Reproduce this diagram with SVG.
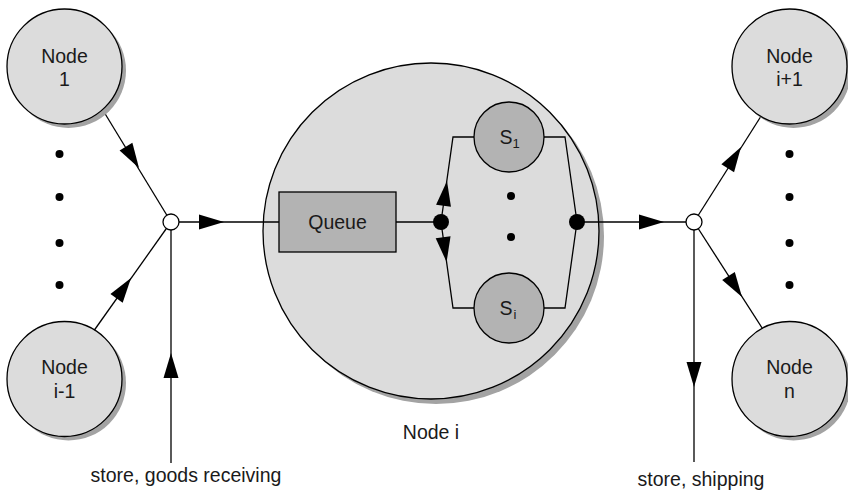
<svg xmlns="http://www.w3.org/2000/svg" xmlns:xlink="http://www.w3.org/1999/xlink" width="848" height="491" viewBox="0 0 848 491">
<style>
.node{fill:#dcdcdc;stroke:#000;stroke-width:1.3}
.shadow{fill:#a3a3a3;stroke:none}
.dark{fill:#b3b3b3;stroke:#000;stroke-width:1.3}
.ln{fill:none;stroke:#000;stroke-width:1.3}
.junc{fill:#fff;stroke:#000;stroke-width:1.3}
.dot{fill:#000}
text{font-family:"Liberation Sans",Arial,sans-serif;font-size:19.5px;fill:#1a1a1a;text-anchor:middle}
.sub{font-size:13px}
</style>
<defs>
<path id="ah" d="M0,0 L-25,-7.5 L-25,7.5 Z" fill="#000"/>
</defs>
<rect width="848" height="491" fill="#fff"/>

<g id="node-i">
<circle class="shadow" cx="436" cy="236" r="168"/>
<circle class="node" cx="431" cy="231" r="168"/>
<text x="431" y="439">Node i</text>
</g>

<g id="connectors">
<line class="ln" x1="104" y1="112" x2="171" y2="222"/>
<line class="ln" x1="93" y1="332" x2="171" y2="222"/>
<line class="ln" x1="171" y1="222" x2="279" y2="222"/>
<line class="ln" x1="171" y1="222" x2="171" y2="463"/>
<line class="ln" x1="396" y1="222" x2="441" y2="222"/>
<polyline class="ln" points="441,222 453,137 474,137"/>
<polyline class="ln" points="441,222 453,308 474,308"/>
<polyline class="ln" points="544,137 565,137 577,222"/>
<polyline class="ln" points="544,308 565,308 577,222"/>
<line class="ln" x1="577" y1="222" x2="694" y2="222"/>
<line class="ln" x1="694" y1="222" x2="760.5" y2="117"/>
<line class="ln" x1="694" y1="222" x2="764" y2="331"/>
<line class="ln" x1="694" y1="222" x2="694" y2="462"/>
<use xlink:href="#ah" transform="translate(139,168) rotate(58.6)"/>
<use xlink:href="#ah" transform="translate(131,278) rotate(-54.7)"/>
<use xlink:href="#ah" transform="translate(224,222)"/>
<use xlink:href="#ah" transform="translate(171,353) rotate(-90)"/>
<use xlink:href="#ah" transform="translate(447,181) rotate(-82)"/>
<use xlink:href="#ah" transform="translate(446.6,262) rotate(82)"/>
<use xlink:href="#ah" transform="translate(664,222)"/>
<use xlink:href="#ah" transform="translate(741,147) rotate(-57.9)"/>
<use xlink:href="#ah" transform="translate(742,297) rotate(57.3)"/>
<use xlink:href="#ah" transform="translate(694,387) rotate(90)"/>
<circle class="dot" cx="441" cy="222" r="8"/>
<circle class="dot" cx="577" cy="222" r="8"/>
<circle class="dot" cx="511" cy="196" r="4"/>
<circle class="dot" cx="511" cy="237" r="4"/>
<circle class="dot" cx="59.5" cy="154" r="4"/>
<circle class="dot" cx="59.5" cy="197" r="4"/>
<circle class="dot" cx="59.5" cy="243" r="4"/>
<circle class="dot" cx="59.5" cy="285" r="4"/>
<circle class="dot" cx="789.5" cy="154" r="4"/>
<circle class="dot" cx="789.5" cy="197" r="4"/>
<circle class="dot" cx="789.5" cy="243" r="4"/>
<circle class="dot" cx="789.5" cy="285" r="4"/>
</g>

<g id="junction-in">
<circle class="junc" cx="171" cy="222" r="8"/>
</g>
<g id="junction-out">
<circle class="junc" cx="694" cy="222" r="8"/>
</g>

<g id="queue">
<rect class="dark" x="279" y="192" width="117" height="60"/>
<text x="337.5" y="229">Queue</text>
</g>

<g id="server-1">
<circle class="dark" cx="509" cy="137" r="35"/>
<text x="506" y="144">S</text>
<text class="sub" x="516" y="148">1</text>
</g>

<g id="server-i">
<circle class="dark" cx="509" cy="308" r="35"/>
<text x="506" y="315">S</text>
<text class="sub" x="515" y="319">i</text>
</g>

<g id="node-1">
<circle class="shadow" cx="68.5" cy="70.5" r="57.5"/>
<circle class="node" cx="64.5" cy="66.5" r="57.5"/>
<text x="64.5" y="63">Node</text>
<text x="64.5" y="86">1</text>
</g>

<g id="node-i-1">
<circle class="shadow" cx="68.5" cy="383" r="57.5"/>
<circle class="node" cx="64.5" cy="379" r="57.5"/>
<text x="64.5" y="374">Node</text>
<text x="64.5" y="398">i-1</text>
</g>

<g id="node-i+1">
<circle class="shadow" cx="793.5" cy="70.5" r="57.5"/>
<circle class="node" cx="789.5" cy="66.5" r="57.5"/>
<text x="789.5" y="63">Node</text>
<text x="789.5" y="86">i+1</text>
</g>

<g id="node-n">
<circle class="shadow" cx="793.5" cy="383" r="57.5"/>
<circle class="node" cx="789.5" cy="379" r="57.5"/>
<text x="789.5" y="374">Node</text>
<text x="789.5" y="398">n</text>
</g>

<g id="labels">
<text x="186" y="482">store, goods receiving</text>
<text x="701" y="486">store, shipping</text>
</g>
</svg>
